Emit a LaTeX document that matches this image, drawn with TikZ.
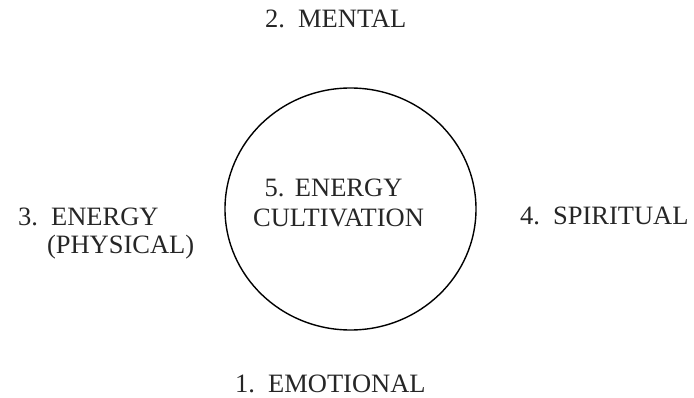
\documentclass[tikz,border=0pt]{standalone}
\usepackage{fontspec}
\setmainfont{Liberation Serif}
\usetikzlibrary{shapes.geometric}
\begin{document}
\begin{tikzpicture}[x=1pt,y=-1pt,
  lbl/.style={inner sep=0pt, outer sep=0pt, font=\fontsize{26.5}{30}\selectfont, text=black!85},
  ring/.style={draw=black, line width=1.4pt}]
\useasboundingbox (0,0) rectangle (694,398);
\node[ring, ellipse, minimum width=251pt, minimum height=242pt, inner sep=0pt] (core) at (350.5,209) {};
\node[lbl, anchor=base] (c1) at (333.5,197) {5.\hspace{0.4em}ENERGY};
\node[lbl, anchor=base] (c2) at (338.5,227) {CULTIVATION};
\node[lbl, anchor=base west] (mental) at (265,28) {2.\hspace{0.5em}MENTAL};
\node[lbl, anchor=base west] (energy1) at (18,226) {3.\hspace{0.5em}ENERGY};
\node[lbl, anchor=base west] (energy2) at (47,254) {(PHYSICAL)};
\node[lbl, anchor=base west] (spirit) at (520,225) {4.\hspace{0.5em}SPIRITUAL};
\node[lbl, anchor=base west] (emo) at (235,392) {1.\hspace{0.5em}EMOTIONAL};
\end{tikzpicture}
\end{document}
